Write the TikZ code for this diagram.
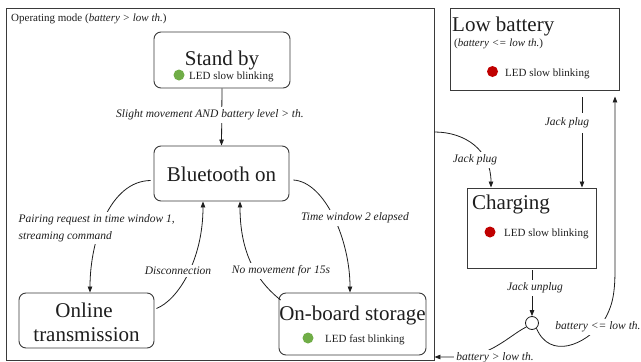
\documentclass[tikz,border=0pt]{standalone}
\usepackage{fontspec}
\setmainfont{Liberation Serif}
\usetikzlibrary{arrows.meta,calc}
\definecolor{ink}{HTML}{1E1E1E}
\definecolor{edge}{HTML}{3A3A3A}
\definecolor{ledgreen}{HTML}{70AD47}
\definecolor{ledred}{HTML}{C00000}

\begin{document}
\begin{tikzpicture}[x=1pt,y=-1pt,
  every node/.style={text=ink},
  roundbox/.style={draw=edge, line width=0.9pt, rounded corners=7pt, inner sep=0pt},
  sqbox/.style={draw=edge, line width=0.9pt, inner sep=0pt},
  bigtxt/.style={font=\fontsize{21}{24}\selectfont, inner sep=0pt},
  smalltxt/.style={font=\fontsize{11}{13}\selectfont, inner sep=0pt},
  lbl/.style={font=\fontsize{11.5}{16.5}\selectfont\itshape, fill=white, inner sep=2.5pt},
  ledg/.style={circle, fill=ledgreen, minimum size=11pt, inner sep=0pt},
  ledr/.style={circle, fill=ledred, minimum size=11pt, inner sep=0pt},
  conn/.style={draw=ink, line width=0.8pt, -{Triangle[length=6pt,width=4.5pt]}}]

\fill[white] (0,0) rectangle (641,362);
\useasboundingbox (0,0) rectangle (641,362);

% ---------- operating mode group ----------
\node[sqbox, minimum width=428pt, minimum height=352pt] (opmode) at (220,184) {};
\node[smalltxt, anchor=base west] (optitle) at (11,21) {Operating mode (\textit{battery > low th.})};

\node[roundbox, minimum width=136pt, minimum height=56pt] (standby) at (222,60) {};
\node[bigtxt, anchor=base] (standbytxt) at (222,65) {Stand by};
\node[ledg] (standbyled) at (179,75) {};
\node[smalltxt, anchor=base west] (standbyledtxt) at (189,79) {LED slow blinking};

\node[roundbox, minimum width=135pt, minimum height=55pt] (bt) at (221.5,173.5) {};
\node[bigtxt, anchor=base] (bttxt) at (221.5,181.5) {Bluetooth on};

\node[roundbox, minimum width=135pt, minimum height=55pt] (online) at (86.5,320.5) {};
\node[bigtxt, anchor=base] (onlinetxt) at (84,317) {Online};
\node[bigtxt, anchor=base] (onlinetxtb) at (86.5,341) {transmission};

\node[roundbox, minimum width=147pt, minimum height=62pt] (storage) at (352.5,324) {};
\node[bigtxt, anchor=base] (storagetxt) at (352.5,320) {On-board storage};
\node[ledg] (storageled) at (308,338) {};
\node[smalltxt, anchor=base west] (storageledtxt) at (325,342) {LED fast blinking};

% ---------- battery states ----------
\node[sqbox, minimum width=169pt, minimum height=82pt] (lowbat) at (534.5,49) {};
\node[bigtxt, anchor=base west] (lowbattxt) at (452,31) {Low battery};
\node[smalltxt, anchor=base west] (lowbatcond) at (454,46) {(\textit{battery <= low th.})};
\node[ledr] (lowbatled) at (492.5,71.5) {};
\node[smalltxt, anchor=base west] (lowbatledtxt) at (505,76) {LED slow blinking};

\node[sqbox, minimum width=129pt, minimum height=80pt] (charging) at (531.5,228) {};
\node[bigtxt, anchor=base west] (chargingtxt) at (472,209) {Charging};
\node[ledr] (chargingled) at (490,232) {};
\node[smalltxt, anchor=base west] (chargingledtxt) at (504,236) {LED slow blinking};

\node[draw=ink, line width=0.8pt, circle, minimum size=13pt, inner sep=0pt] (junc) at (532,323) {};

% x positions used by the vertical connectors
\coordinate (xdisc) at (203,0);
\coordinate (xnomove) at (240,0);
\coordinate (xpair) at (90,0);
\coordinate (xtw) at (350,0);
\coordinate (xjackl) at (491,0);
\coordinate (xjackr) at (582,0);
\coordinate (xret) at (615,0);
\coordinate (yret) at (0,357);

% ---------- connectors ----------
\draw[conn] (standby.south) -- (bt.north);

\draw[conn] ([xshift=-3pt,yshift=-7pt]bt.west)
  .. controls (110,181) and (90,240) .. (online.north -| xpair);

\draw[conn] ([xshift=2pt,yshift=12pt]online.east)
  .. controls (178,300) and (203,260) .. (bt.south -| xdisc);

\draw[conn] ([xshift=2pt,yshift=24pt]storage.west)
  .. controls (262,285) and (240,260) .. (bt.south -| xnomove);

\draw[conn] ([xshift=4pt,yshift=-6.5pt]bt.east)
  .. controls (325,182) and (350,240) .. (storage.north -| xtw);

\draw[conn] ([yshift=52pt]opmode.east)
  .. controls (465,132) and (491,150) .. (charging.north -| xjackl);

\draw[conn, shorten <=7pt] (lowbat.south -| xjackr) -- (charging.north -| xjackr);

\draw[conn, shorten <=2pt] (charging.south -| junc) -- (junc.north);

\draw[conn, shorten >=6pt] (junc.-50)
  .. controls (550,360) and (585,345) .. (603,322)
  .. controls (612,308) and (615,295) .. (615,270)
  -- (lowbat.south -| xret);

\draw[conn] (junc.215)
  .. controls (512,334) and (495,352) .. (468,357)
  -- (opmode.east |- yret);

% ---------- transition labels ----------
\node[lbl] (lslight) at (210,115) {Slight movement AND battery level > th.};
\node[lbl, align=left, anchor=west] (lpair) at (16,228) {Pairing request in time window 1,\\streaming command};
\node[lbl] (ldisc) at (178,271) {Disconnection};
\node[lbl] (lnomove) at (281,271) {No movement for 15s};
\node[lbl] (ltw) at (355,218) {Time window 2 elapsed};
\node[lbl] (ljackl) at (475,160) {Jack plug};
\node[lbl, inner ysep=5pt] (ljackr) at (567,123) {Jack plug};
\node[lbl] (lunplug) at (535,288) {Jack unplug};
\node[lbl] (lle) at (598,327) {battery <= low th.};
\node[lbl] (lgt) at (495,358) {battery > low th.};
\end{tikzpicture}
\end{document}
